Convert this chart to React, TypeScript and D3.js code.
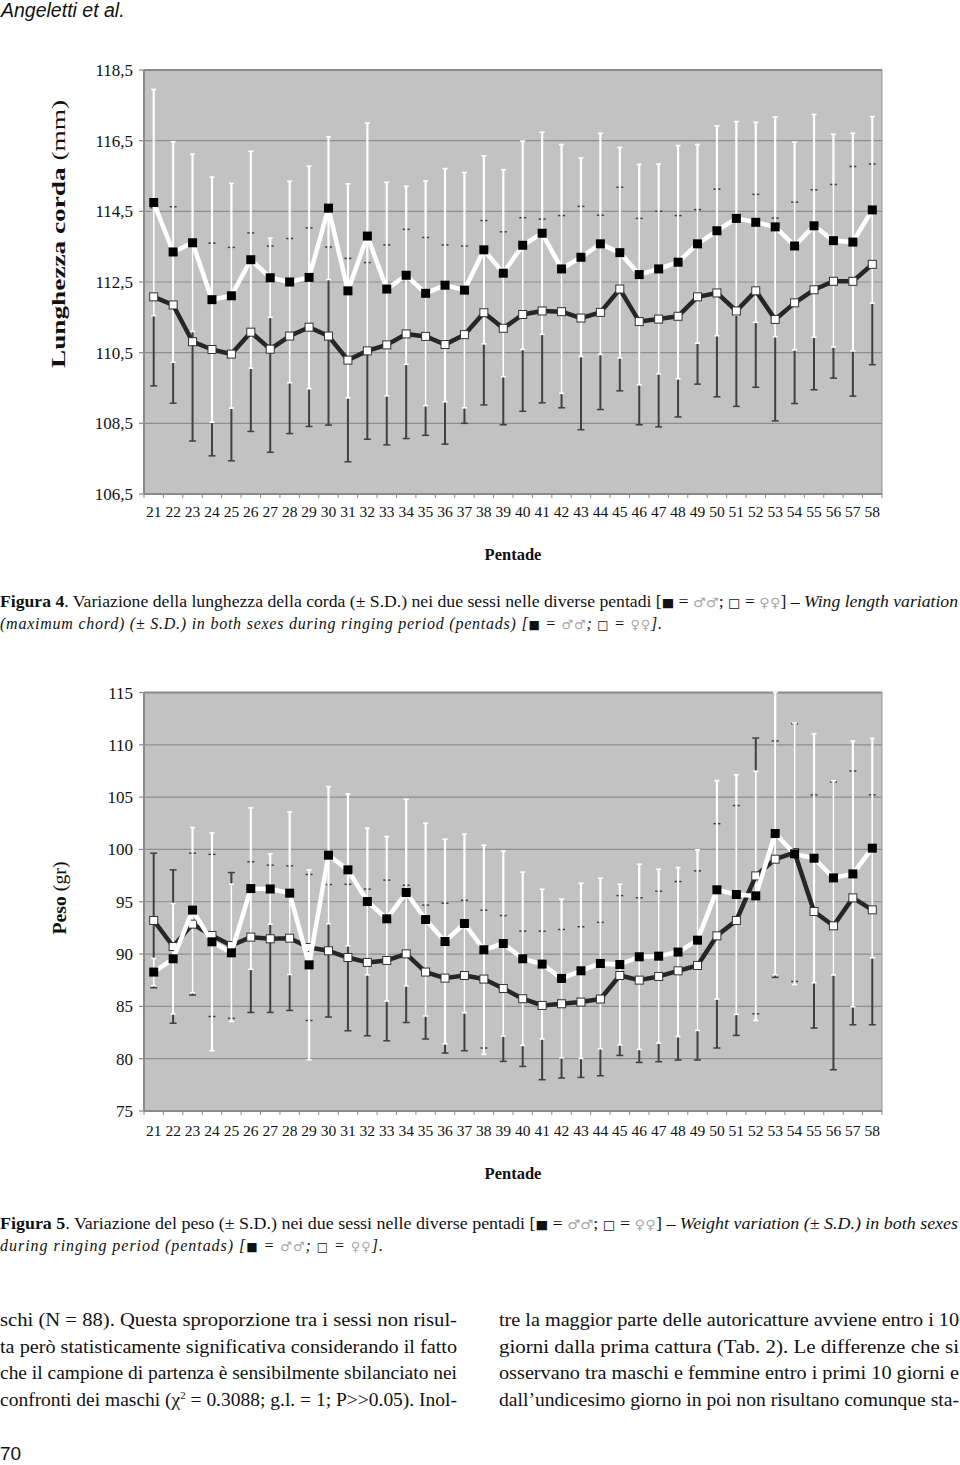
import React from 'react';
import * as d3 from 'd3';

// pentadi (x categories)
const pentadi = ['21', '22', '23', '24', '25', '26', '27', '28', '29', '30', '31', '32', '33', '34', '35', '36', '37', '38', '39',
  '40', '41', '42', '43', '44', '45', '46', '47', '48', '49', '50', '51', '52', '53', '54', '55', '56', '57', '58'];

// Figura 4 - lunghezza corda (mm)
const wingTicks = [106.5, 108.5, 110.5, 112.5, 114.5, 116.5, 118.5];
const wingMaleMean = [114.75, 113.35, 113.61, 112.0, 112.11, 113.13, 112.62, 112.5, 112.63, 114.59, 112.25, 113.8, 112.3, 112.69,
  112.18, 112.41, 112.27, 113.41, 112.75, 113.54, 113.88, 112.87, 113.2, 113.58, 113.33, 112.71, 112.87, 113.06, 113.58,
  113.95, 114.3, 114.19, 114.06, 113.52, 114.09, 113.67, 113.63, 114.54];
const wingMaleSD = [3.2, 3.12, 2.51, 3.47, 3.18, 3.07, 1.12, 2.85, 3.15, 2.02, 3.03, 3.2, 3.02, 2.52,
  3.18, 3.3, 3.33, 2.66, 2.93, 2.95, 2.86, 3.52, 2.81, 3.13, 2.98, 3.12, 2.97, 3.3, 2.81,
  2.97, 2.74, 2.83, 3.11, 2.94, 3.15, 3.01, 3.08, 2.64];
const wingFemaleMean = [112.08, 111.85, 110.81, 110.59, 110.46, 111.08, 110.6, 110.97, 111.22, 110.97, 110.29, 110.55, 110.72, 111.03,
  110.96, 110.73, 111.01, 111.63, 111.19, 111.58, 111.68, 111.66, 111.48, 111.64, 112.3, 111.38, 111.45, 111.53, 112.08,
  112.19, 111.68, 112.25, 111.44, 111.91, 112.28, 112.52, 112.52, 113.0];
const wingFemaleSD = [2.52, 2.78, 2.81, 3.01, 3.02, 2.81, 2.92, 2.76, 2.81, 2.52, 2.88, 2.5, 2.83, 2.96,
  2.8, 2.82, 2.51, 2.61, 2.73, 2.74, 2.6, 2.72, 3.16, 2.75, 2.88, 2.92, 3.05, 2.85, 2.47,
  2.94, 2.7, 2.73, 2.87, 2.85, 2.83, 2.74, 3.25, 2.84];

// Figura 5 - peso (gr)
const weightTicks = [75, 80, 85, 90, 95, 100, 105, 110, 115];
const weightMaleMean = [88.28, 89.55, 94.2, 91.17, 90.12, 96.26, 96.22, 95.82, 88.97, 99.45, 98.05, 95.02, 93.37, 95.88,
  93.3, 91.2, 92.92, 90.41, 91.01, 89.55, 89.04, 87.67, 88.4, 89.1, 89.0, 89.74, 89.8, 90.19, 91.33,
  96.14, 95.69, 95.56, 101.52, 99.58, 99.16, 97.28, 97.66, 100.12];
const weightMaleSD = [1.3, 5.28, 7.89, 10.41, 6.56, 7.71, 3.36, 7.77, 9.08, 6.55, 7.26, 7.01, 7.86, 8.92,
  9.21, 9.78, 8.54, 10.0, 8.85, 8.28, 7.16, 7.58, 8.37, 8.15, 7.68, 8.85, 8.31, 8.08, 8.63,
  10.44, 11.45, 11.92, 13.5, 12.5, 11.9, 9.28, 12.7, 10.48];
const weightFemaleMean = [93.21, 90.72, 92.86, 91.78, 90.82, 91.62, 91.46, 91.52, 90.63, 90.31, 89.67, 89.2, 89.39, 90.02,
  88.28, 87.7, 87.95, 87.61, 86.71, 85.73, 85.09, 85.25, 85.41, 85.7, 87.95, 87.51, 87.86, 88.4, 88.91,
  91.74, 93.21, 97.47, 99.07, 99.7, 94.07, 92.7, 95.37, 94.23];
const weightFemaleSD = [6.43, 7.33, 6.78, 7.75, 6.97, 7.2, 7.04, 6.91, 6.98, 6.33, 7.0, 7.01, 7.68, 6.56,
  6.4, 7.16, 7.19, 6.59, 6.97, 6.47, 7.1, 7.1, 7.2, 7.33, 7.64, 7.87, 8.15, 8.53, 9.04,
  10.72, 10.99, 13.18, 11.3, 12.32, 11.14, 13.76, 12.13, 10.99];

const bodyLeft = [
  'schi (N = 88). Questa sproporzione tra i sessi non risul-',
  'ta però statisticamente significativa considerando il fatto',
  'che il campione di partenza è sensibilmente sbilanciato nei',
];
const bodyRight = [
  'tre la maggior parte delle autoricatture avviene entro i 10',
  'giorni dalla prima cattura (Tab. 2). Le differenze che si',
  'osservano tra maschi e femmine entro i primi 10 giorni e',
  'dall’undicesimo giorno in poi non risultano comunque sta-',
];

const serif = "'Liberation Serif', 'Times New Roman', serif";
const sans = "'Liberation Sans', Arial, sans-serif";
const dejavu = "'DejaVu Sans', sans-serif";
const GRAY_SYM = '#a8a8a8';

const PLOT_L = 144;
const PLOT_R = 882;

interface ChartProps {
  top: number;
  bottom: number;
  domain: [number, number];
  ticks: number[];
  fmt: (v: number) => string;
  maleMean: number[];
  maleSD: number[];
  femaleMean: number[];
  femaleSD: number[];
  labelY: number;
}

function ErrChart({ top, bottom, domain, ticks, fmt, maleMean, maleSD, femaleMean, femaleSD, labelY }: ChartProps) {
  const x = d3.scaleBand<string>().domain(pentadi).range([PLOT_L, PLOT_R]);
  const y = d3.scaleLinear().domain(domain).range([bottom, top]);
  const cx = (p: string) => (x(p) as number) + x.bandwidth() / 2;
  const line = d3.line<number>().x((_, i) => cx(pentadi[i])).y(v => y(v));

  return (
    <g>
      <rect x={PLOT_L} y={top} width={PLOT_R - PLOT_L} height={bottom - top} fill="#c2c2c2" stroke="#9a9a9a" strokeWidth={1} />
      {ticks.map(t => (
        <g key={t}>
          {t !== domain[0] && t !== domain[1] && (
            <line x1={PLOT_L} x2={PLOT_R} y1={y(t)} y2={y(t)} stroke="#8e8e8e" strokeWidth={1.2} />
          )}
          <line x1={PLOT_L - 5} x2={PLOT_L} y1={y(t)} y2={y(t)} stroke="#8a8a8a" strokeWidth={1.2} />
          <text x={133} y={y(t) + 6} textAnchor="end" fontFamily={serif} fontSize={17} fill="#111">{fmt(t)}</text>
        </g>
      ))}
      <line x1={PLOT_L} x2={PLOT_R} y1={top} y2={top} stroke="#8a8a8a" strokeWidth={2} />
      <line x1={PLOT_L} x2={PLOT_L} y1={top} y2={bottom} stroke="#8a8a8a" strokeWidth={2} />
      <line x1={PLOT_L} x2={PLOT_R} y1={bottom} y2={bottom} stroke="#8a8a8a" strokeWidth={2} />
      {pentadi.map(p => (
        <line key={'t' + p} x1={x(p) as number} x2={x(p) as number} y1={bottom} y2={bottom + 4} stroke="#8a8a8a" strokeWidth={1} />
      ))}
      <line x1={PLOT_R} x2={PLOT_R} y1={bottom} y2={bottom + 4} stroke="#8a8a8a" strokeWidth={1} />

      {/* female error bars (dark) */}
      {pentadi.map((p, i) => {
        const hi = y(femaleMean[i] + femaleSD[i]);
        const lo = y(femaleMean[i] - femaleSD[i]);
        const c = cx(p);
        return (
          <g key={'fe' + p} stroke="#404040" strokeWidth={2}>
            <line x1={c} x2={c} y1={hi} y2={lo} />
            <line x1={c - 3.5} x2={c + 3.5} y1={hi} y2={hi} strokeWidth={1.5} />
            <line x1={c - 3.5} x2={c + 3.5} y1={lo} y2={lo} strokeWidth={1.5} />
          </g>
        );
      })}
      {/* male error bars (white) */}
      {pentadi.map((p, i) => {
        const hi = y(maleMean[i] + maleSD[i]);
        const lo = y(maleMean[i] - maleSD[i]);
        const c = cx(p);
        return (
          <g key={'me' + p} stroke="#ffffff" strokeWidth={2.2}>
            <line x1={c} x2={c} y1={hi} y2={lo} />
            <line x1={c - 2.5} x2={c + 2.5} y1={hi} y2={hi} strokeWidth={1.6} />
            <line x1={c - 2.5} x2={c + 2.5} y1={lo} y2={lo} strokeWidth={1.6} />
          </g>
        );
      })}

      <path d={line(femaleMean) as string} fill="none" stroke="#262626" strokeWidth={4.5} strokeLinejoin="round" />
      {pentadi.map((p, i) => (
        <rect key={'fm' + p} x={cx(p) - 4} y={y(femaleMean[i]) - 4} width={8} height={8} fill="#fff" stroke="#333" strokeWidth={1} />
      ))}
      <path d={line(maleMean) as string} fill="none" stroke="#ffffff" strokeWidth={4.5} strokeLinejoin="round" />
      {pentadi.map((p, i) => (
        <rect key={'mm' + p} x={cx(p) - 4.5} y={y(maleMean[i]) - 4.5} width={9} height={9} fill="#000" />
      ))}

      {pentadi.map(p => (
        <text key={'xl' + p} x={cx(p)} y={labelY} textAnchor="middle" fontFamily={serif} fontSize={15.5} fill="#111">{p}</text>
      ))}
    </g>
  );
}

function Caption({ y, num, rest, italic, line2, len1, len2 }: { y: number; num: string; rest: string; italic: string; line2: string; len1: number; len2: number }) {
  const sym = (s: string) => <tspan fill={GRAY_SYM} fontFamily={dejavu} fontSize={13}>{s}</tspan>;
  return (
    <g fontFamily={serif} fontSize={16} fill="#111">
      <text x={0} y={y} textLength={len1} lengthAdjust="spacingAndGlyphs">
        <tspan fontWeight="bold">{num}</tspan>{rest}
        <tspan fontFamily={dejavu} fontSize={12}>■</tspan> = {sym('♂♂')}; <tspan fontFamily={dejavu} fontSize={12}>□</tspan> = {sym('♀♀')}] – <tspan fontStyle="italic">{italic}</tspan>
      </text>
      <text x={0} y={y + 22} fontStyle="italic" textLength={len2} lengthAdjust="spacing">
        {line2} [<tspan fontFamily={dejavu} fontSize={12} fontStyle="normal">■</tspan> = {sym('♂♂')}; <tspan fontFamily={dejavu} fontSize={12} fontStyle="normal">□</tspan> = {sym('♀♀')}].
      </text>
    </g>
  );
}

export default function App() {
  return (
    <svg width={960} height={1465} viewBox="0 0 960 1465" style={{ position: 'absolute', left: 0, top: 0, background: '#fff' }}>
      <text x={1} y={17} fontFamily={sans} fontStyle="italic" fontSize={19.5} fill="#111">Angeletti et al.</text>

      {/* Figura 4 */}
      <ErrChart top={70} bottom={494} domain={[106.5, 118.5]} ticks={wingTicks} fmt={v => d3.format('.1f')(v).replace('.', ',')}
        maleMean={wingMaleMean} maleSD={wingMaleSD} femaleMean={wingFemaleMean} femaleSD={wingFemaleSD} labelY={517} />
      <text transform="translate(65,234) rotate(-90)" textAnchor="middle" fontFamily={serif} fontSize={19} fill="#111"
        textLength={268} lengthAdjust="spacingAndGlyphs">
        <tspan fontWeight="bold">Lunghezza corda</tspan> (mm)
      </text>
      <text x={513} y={560} textAnchor="middle" fontFamily={serif} fontWeight="bold" fontSize={16.5} fill="#111">Pentade</text>
      <Caption y={607} num="Figura 4" rest=". Variazione della lunghezza della corda (± S.D.) nei due sessi nelle diverse pentadi ["
        italic="Wing length variation" line2="(maximum chord) (± S.D.) in both sexes during ringing period (pentads)" len1={958} len2={662} />

      {/* Figura 5 */}
      <ErrChart top={692.5} bottom={1111} domain={[75, 115]} ticks={weightTicks} fmt={v => String(v)}
        maleMean={weightMaleMean} maleSD={weightMaleSD} femaleMean={weightFemaleMean} femaleSD={weightFemaleSD} labelY={1136} />
      <text transform="translate(66,898) rotate(-90)" textAnchor="middle" fontFamily={serif} fontSize={18} fill="#111"
        textLength={73} lengthAdjust="spacingAndGlyphs">
        <tspan fontWeight="bold">Peso</tspan> (gr)
      </text>
      <text x={513} y={1179} textAnchor="middle" fontFamily={serif} fontWeight="bold" fontSize={16.5} fill="#111">Pentade</text>
      <Caption y={1229} num="Figura 5" rest=". Variazione del peso (± S.D.) nei due sessi nelle diverse pentadi ["
        italic="Weight variation (± S.D.) in both sexes" line2="during ringing period (pentads)" len1={958} len2={383} />

      {/* body text */}
      <g fontFamily={serif} fontSize={18} fill="#111">
        {bodyLeft.map((t, i) => (
          <text key={'l' + i} x={0} y={1326 + i * 26.5} textLength={457} lengthAdjust="spacingAndGlyphs">{t}</text>
        ))}
        <text x={0} y={1326 + 3 * 26.5} textLength={457} lengthAdjust="spacingAndGlyphs">
          confronti dei maschi (χ<tspan fontSize={10} dy={-7}>2</tspan><tspan dy={7}> = 0.3088; g.l. = 1; P&gt;&gt;0.05). Inol-</tspan>
        </text>
        {bodyRight.map((t, i) => (
          <text key={'r' + i} x={499} y={1326 + i * 26.5} textLength={460} lengthAdjust="spacingAndGlyphs">{t}</text>
        ))}
      </g>
      <text x={0} y={1460} fontFamily={sans} fontSize={19} fill="#111">70</text>
    </svg>
  );
}
